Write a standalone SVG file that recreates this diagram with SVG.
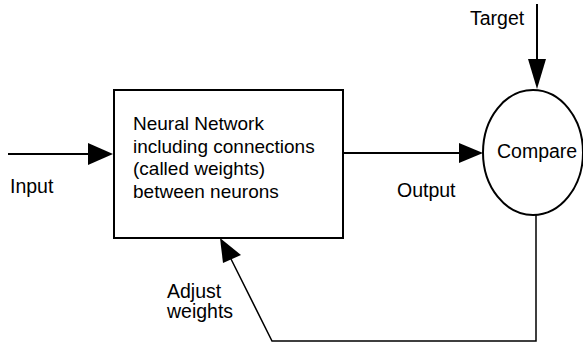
<svg xmlns="http://www.w3.org/2000/svg" width="583" height="344" viewBox="0 0 583 344">
  <style>
    .shape { fill: #fff; stroke: #000; stroke-width: 2; }
    .wire { fill: none; stroke: #000; stroke-width: 2; }
    .thin { stroke-width: 1.5; }
    .head { fill: #000; stroke: none; }
    text { font-family: "Liberation Sans", Arial, sans-serif; font-size: 19.5px; fill: #000; }
    .body { font-size: 19px; }
  </style>
  <rect width="583" height="344" fill="#fff"/>

  <g id="connectors">
    <!-- Input into the network -->
    <line class="wire" x1="8" y1="154" x2="92" y2="154"/>
    <polygon class="head" points="113,154 88,143 88,165"/>
    <!-- Output to the comparator -->
    <line class="wire" x1="343" y1="153" x2="462" y2="153"/>
    <polygon class="head" points="483,153 459,143 459,163"/>
    <!-- Target into the comparator -->
    <line class="wire" x1="537" y1="4" x2="537" y2="64"/>
    <polygon class="head" points="537,89 528,59 546,59"/>
    <!-- Feedback loop: adjust weights -->
    <polyline class="wire thin" points="536,215 536,341 272,341 229,255"/>
    <polygon class="head" points="220,238 223,263 241,255"/>
  </g>

  <g id="network">
    <rect class="shape" x="114" y="90" width="229" height="148"/>
    <text class="body" x="133" y="130">Neural Network</text>
    <text class="body" x="133" y="153">including connections</text>
    <text class="body" x="133" y="175">(called weights)</text>
    <text class="body" x="133" y="198">between neurons</text>
  </g>

  <g id="compare">
    <ellipse class="shape" cx="533" cy="152.5" rx="50" ry="62.5"/>
    <text x="497" y="158">Compare</text>
  </g>

  <g id="labels">
    <text x="10" y="193">Input</text>
    <text x="397" y="197">Output</text>
    <text x="470" y="25">Target</text>
    <text x="167" y="298">Adjust</text>
    <text x="167" y="318">weights</text>
  </g>
</svg>
